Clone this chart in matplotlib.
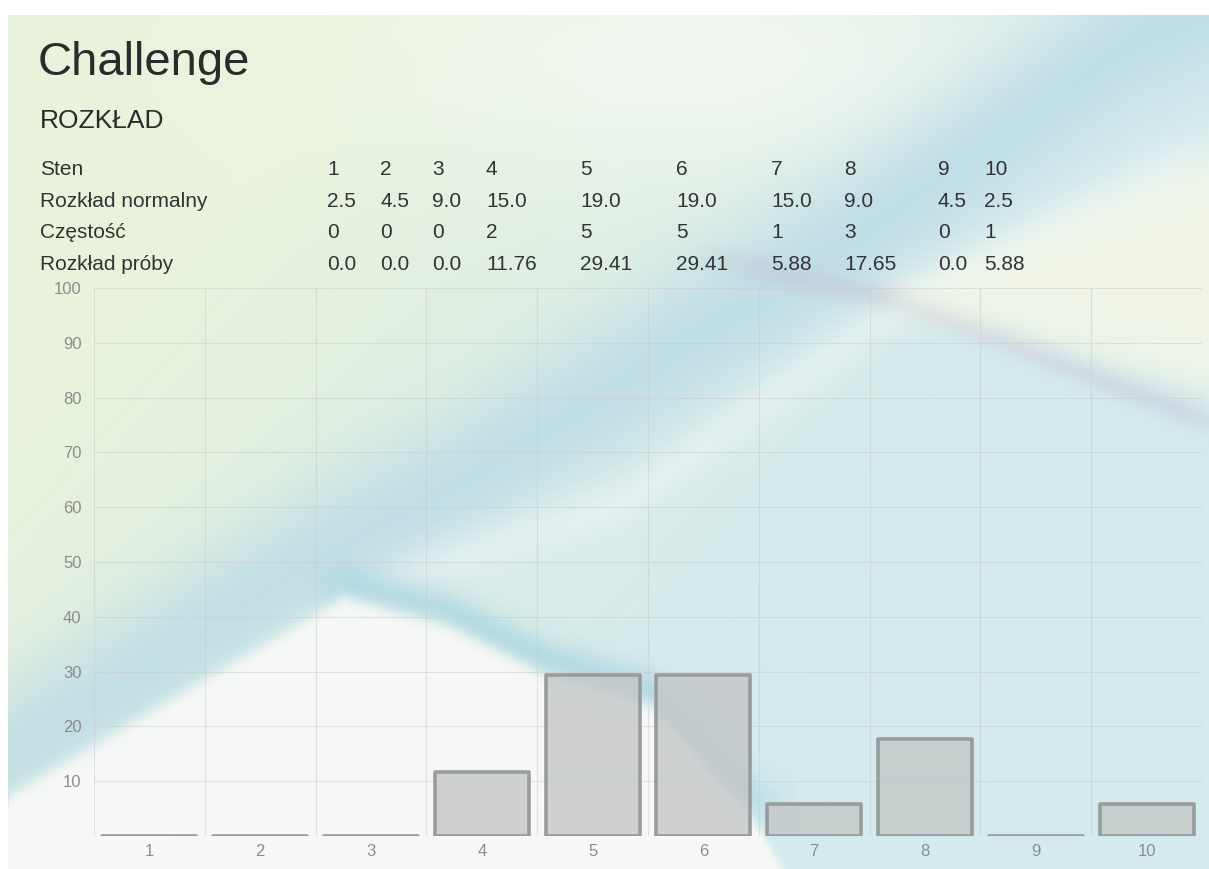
import numpy as np
import matplotlib.pyplot as plt

# --- table / chart data ---
sten = [1, 2, 3, 4, 5, 6, 7, 8, 9, 10]
normal_dist = ["2.5", "4.5", "9.0", "15.0", "19.0", "19.0", "15.0", "9.0", "4.5", "2.5"]
frequency = [0, 0, 0, 2, 5, 5, 1, 3, 0, 1]
sample_dist = [0.0, 0.0, 0.0, 11.76, 29.41, 29.41, 5.88, 17.65, 0.0, 5.88]
row_labels = ["Sten", "Rozkład normalny", "Częstość", "Rozkład próby"]
y_ticks = [10, 20, 30, 40, 50, 60, 70, 80, 90, 100]

W, H = 1209, 869
plt.rcParams["font.family"] = ["Liberation Sans", "DejaVu Sans"]

fig = plt.figure(figsize=(W / 100, H / 100), dpi=100)


def px(x, y):
    return x / W, 1 - y / H


# ------------------------------------------------------------ background ---
yy, xx = np.mgrid[0:H, 0:W].astype(float)
x1 = np.arange(W, dtype=float)


def curve(xs, ys):
    return np.interp(x1, xs, ys)[None, :]


def window(a, b, fade=60):
    return np.clip((xx - a) / fade, 0, 1) * np.clip((b - xx) / fade, 0, 1)


def blend(img, col, w):
    w = np.clip(w, 0, 1)[..., None]
    return img * (1 - w) + np.array(col) / 255 * w


def band(img, xs, ys, sigma, col, alpha, span=None):
    c = curve(xs, ys)
    w = alpha * np.exp(-((yy - c) / sigma) ** 2)
    if span is not None:
        w = w * window(*span)
    return blend(img, col, w)


green = np.array([233, 243, 220]) / 255
teal = np.array([212, 234, 236]) / 255
m = np.clip((xx - 250 + 0.9 * (yy - 150)) / 900, 0, 1)[..., None]
img = green * (1 - m) + teal * m

# light haze along the top
img = blend(img, (246, 249, 244), 0.7 * np.exp(-((xx - 700) / 330) ** 2 - ((yy - 60) / 120) ** 2))

# broad blue sweep, lower left to upper right
img = band(img, [0, 312, 446, 625, 862, 1133, 1209], [760, 560, 490, 380, 230, 40, 0],
           80, (182, 216, 229), 0.7)
# lighter streak inside it
img = band(img, [340, 627, 907, 1209], [600, 500, 300, 150], 28, (240, 246, 246), 0.5,
           span=(340, 1260, 80))
# blue stripe just above the right flank of the hump
img = band(img, [344, 446, 549, 650, 760], [585, 610, 660, 690, 800], 22, (162, 209, 225), 0.6,
           span=(300, 800, 60))
# grey-violet band crossing on the right
img = band(img, [700, 900, 1209], [255, 300, 420], 14, (196, 200, 216), 0.5,
           span=(680, 1260, 80))
# cream wedge on the right
cream_top = curve([880, 1000, 1209], [300, 250, 160])
cream_bot = curve([880, 1000, 1209], [300, 330, 390])
wcream = 1 / (1 + np.exp(-(yy - cream_top) / 10)) * 1 / (1 + np.exp((yy - cream_bot) / 10))
img = blend(img, (246, 247, 230), 0.8 * wcream * window(860, 1300, 40))

# white hump in the lower left
hump = curve([0, 9, 344, 446, 549, 650, 760, 860], [869, 795, 597, 626, 677, 705, 830, 1000])
img = blend(img, (250, 250, 248), 0.92 / (1 + np.exp(-(yy - hump) / 4)))

# white frame
img[(yy < 15) | (xx < 8)] = 1.0

bg = fig.add_axes([0, 0, 1, 1])
bg.imshow(img, aspect="auto", extent=[0, W, H, 0], interpolation="bilinear")
bg.set_axis_off()

# ------------------------------------------------------------ header ---
fig.text(*px(38, 75), "Challenge", fontsize=34, color="#2b2b2b", va="baseline")
fig.text(*px(40, 128), "ROZKŁAD", fontsize=19, color="#2b2b2b", va="baseline")

col_x = [327, 380, 432, 486, 580, 676, 771, 844, 938, 984]
row_y = [175, 207, 238, 270]
rows = [[str(s) for s in sten],
        normal_dist,
        [str(f) for f in frequency],
        [f"{v:g}" if v != int(v) else f"{v:.1f}" for v in sample_dist]]
for ry, label, vals in zip(row_y, row_labels, rows):
    fig.text(*px(40, ry), label, fontsize=15, color="#333333", va="baseline")
    for cx, v in zip(col_x, vals):
        fig.text(*px(cx, ry), v, fontsize=15, color="#333333", va="baseline")

# ------------------------------------------------------------ chart ---
left, right, top, bottom = 94, 1202, 288, 836
ax = fig.add_axes([left / W, 1 - bottom / H, (right - left) / W, (bottom - top) / H])
ax.patch.set_alpha(0)

ax.bar(sten, sample_dist, width=0.85, color=(0.77, 0.78, 0.78, 0.8),
       edgecolor="#9a9c9c", linewidth=2.6, joinstyle="round", capstyle="round", zorder=3)

ax.set_xlim(0.5, 10.5)
ax.set_ylim(0, 100)
ax.set_xticks(sten)
ax.set_xticks(np.arange(0.5, 11, 1), minor=True)
ax.set_yticks(y_ticks)
ax.tick_params(axis="both", which="both", length=0, colors="#8c8c8c", labelsize=12)
ax.tick_params(axis="x", pad=6)
ax.tick_params(axis="y", pad=9)
ax.grid(True, which="minor", axis="x", color="#c8ccc8", alpha=0.5, lw=0.8)
ax.grid(True, which="major", axis="y", color="#c8ccc8", alpha=0.5, lw=0.8)
for s in ax.spines.values():
    s.set_visible(False)

plt.savefig("out.png", dpi=100)
